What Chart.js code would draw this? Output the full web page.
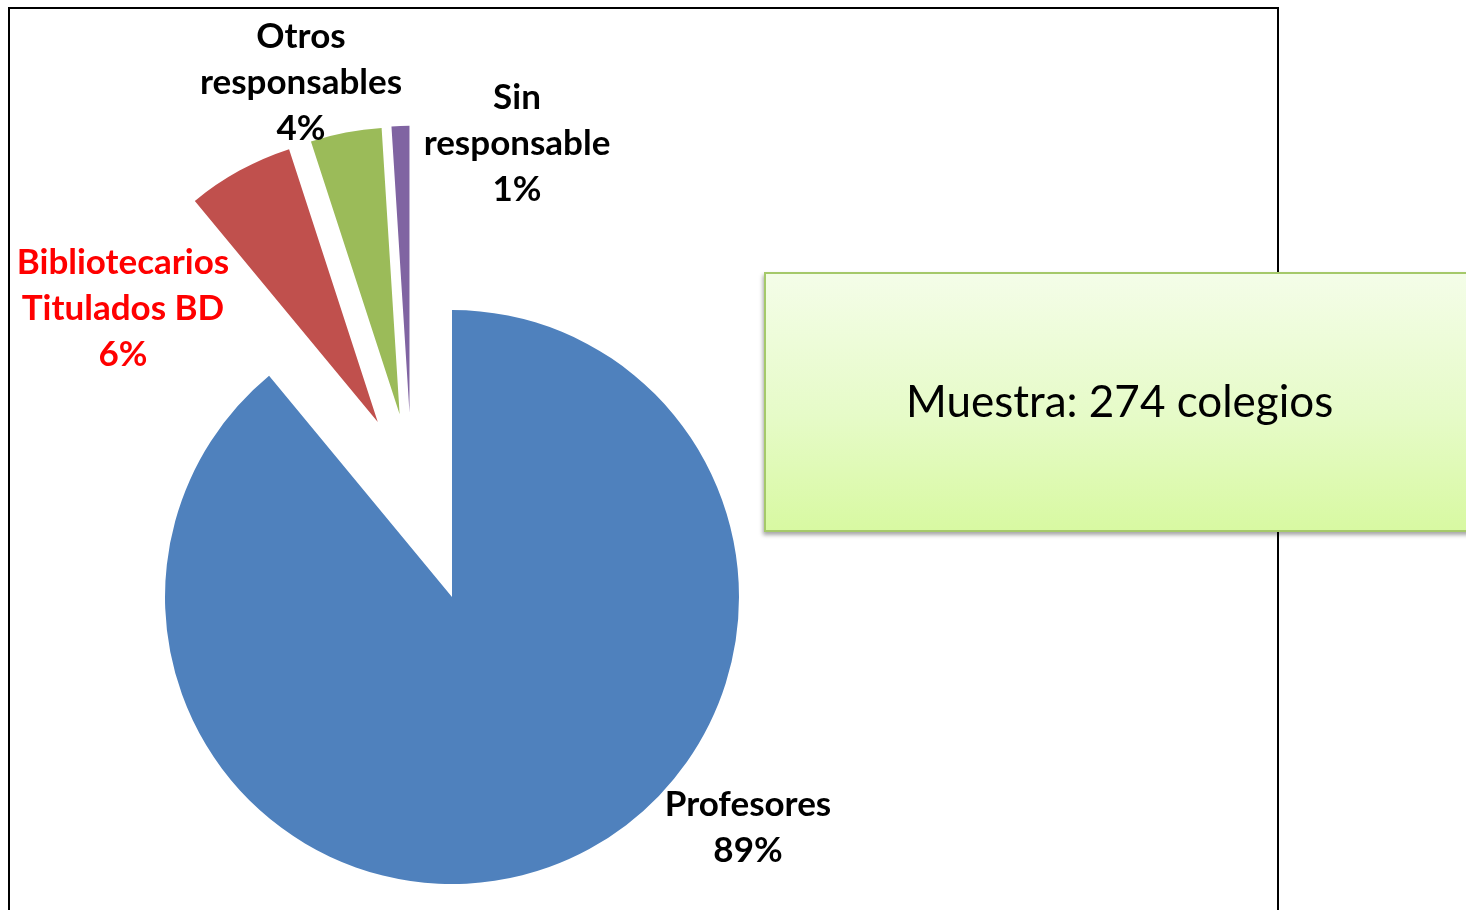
<!doctype html>
<html>
<head>
	<title>Responsables de biblioteca</title>
	<script src="https://cdn.jsdelivr.net/npm/chart.js@4.4.1"></script>
	<style>
	* { margin: 0; padding: 0; }
	body { width: 1466px; height: 910px; overflow: hidden; background: #fff; font-family: Lato, sans-serif; }
	.frame { position: absolute; left: 8px; top: 7px; width: 1267px; height: 960px; border: 2px solid #000; }
	.chartBox { position: absolute; left: 0; top: 0; width: 1466px; height: 910px; }
	.note {
		position: absolute; left: 764px; top: 272px; width: 760px; height: 256px;
		border: 2px solid #a5c96a;
		background: linear-gradient(to bottom, #f4fde8 0%, #e6fbc8 55%, #d8f9a2 100%);
		box-shadow: -1px 3px 4px rgba(0,0,0,0.35);
	}
	.note p { position: absolute; left: 140px; top: 100px; font-size: 44px; color: #000; white-space: nowrap; }
	</style>
</head>
<body>
	<div class="frame"></div>
	<div class="chartBox"><canvas id="canvas_pie"></canvas></div>
	<div class="note"><p>Muestra: 274 colegios</p></div>

<script type="text/javascript">
	// data
	var categories = ['Profesores', 'Bibliotecarios Titulados BD', 'Otros responsables', 'Sin responsable'];
	var percentages = [89, 6, 4, 1];
	var labelLines = [['Profesores'], ['Bibliotecarios', 'Titulados BD'], ['Otros', 'responsables'], ['Sin', 'responsable']];

	// style
	var sliceColors = ['#4f81bd', '#c0504d', '#9bbb59', '#8064a2'];
	var labelColors = ['#000000', '#ff0000', '#000000', '#000000'];
	var explodeDist = [0, 190, 190, 189];
	var explodeAngle = [0, 337, 344, 347]; // degrees clockwise from top
	var labelPos = [[748, 805], [123, 263], [301, 37], [517, 98]]; // centre of first line
	var lineHeight = 46;

	// move exploded slices away from the centre
	var explodePlugin = {
		id: 'explode',
		beforeDatasetsDraw: function(chart) {
			var meta = chart.getDatasetMeta(0);
			var a = chart.chartArea;
			var cx = (a.left + a.right) / 2, cy = (a.top + a.bottom) / 2;
			meta.data.forEach(function(arc, i) {
				var r = explodeAngle[i] * Math.PI / 180;
				arc.x = cx + explodeDist[i] * Math.sin(r);
				arc.y = cy - explodeDist[i] * Math.cos(r);
			});
		}
	};

	var labelPlugin = {
		id: 'sliceLabels',
		afterDatasetsDraw: function(chart) {
			var ctx = chart.ctx;
			ctx.save();
			ctx.font = 'bold 35px Lato';
			ctx.textAlign = 'center';
			ctx.textBaseline = 'middle';
			percentages.forEach(function(v, i) {
				var lines = labelLines[i].concat([v + '%']);
				ctx.fillStyle = labelColors[i];
				lines.forEach(function(t, j) {
					ctx.fillText(t, labelPos[i][0], labelPos[i][1] + j * lineHeight);
				});
			});
			ctx.restore();
		}
	};

	var pie_config = {
		type: 'pie',
		data: {
			labels: categories,
			datasets: [{
				data: percentages,
				backgroundColor: sliceColors,
				borderWidth: 0,
				clip: false
			}]
		},
		options: {
			responsive: true,
			maintainAspectRatio: false,
			animation: false,
			layout: {
				padding: { left: 165, right: 727, top: 310, bottom: 26 }
			},
			plugins: {
				legend: { display: false },
				tooltip: { enabled: false }
			}
		},
		plugins: [explodePlugin, labelPlugin]
	};

	var pie_Chart = new Chart(document.getElementById('canvas_pie'), pie_config);
</script>
</body>
</html>
